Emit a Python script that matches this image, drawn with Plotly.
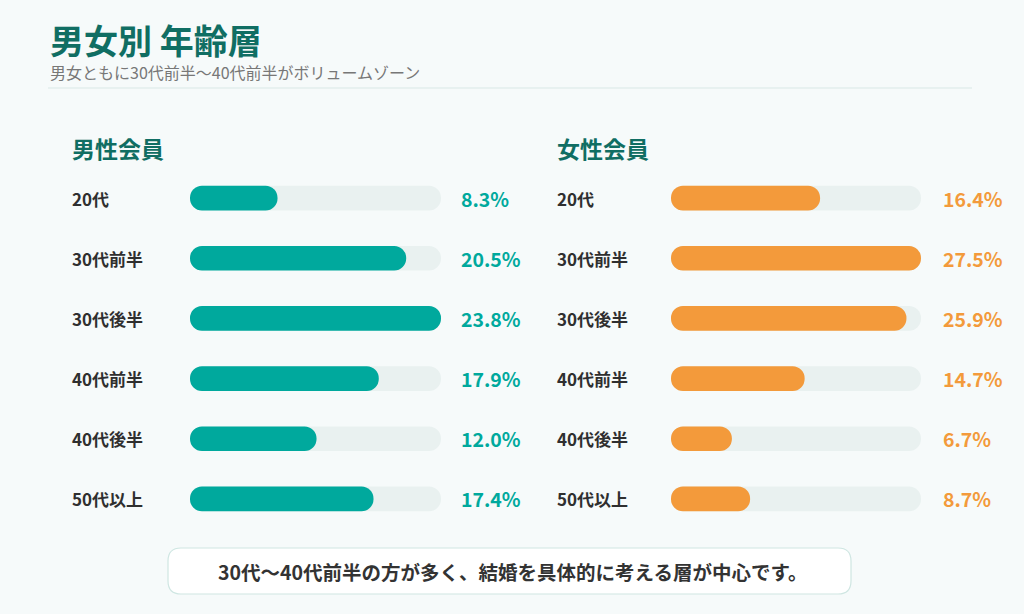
import plotly.graph_objects as go

ages = ['20代', '30代前半', '30代後半', '40代前半', '40代後半', '50代以上']
male = [8.3, 20.5, 23.8, 17.9, 12.0, 17.4]
female = [16.4, 27.5, 25.9, 14.7, 6.7, 8.7]

W, H = 1024, 614
TEAL = '#00A99D'
ORANGE = '#F39A3B'
TRACK = '#E9F1F0'
DARK = '#106E63'
FONT = 'Noto Sans CJK JP'


def px(x):
    return x / W


def py(y):
    return 1 - y / H


fig = go.Figure()

panels = [
    (male, TEAL, 'x', 70, 459, '男性会員'),
    (female, ORANGE, 'x2', 555, 941, '女性会員'),
]

for vals, color, xa, lab_x, val_x, head in panels:
    zero = [0] * len(ages)
    # grey track (full length = panel max), then the value bar on top
    fig.add_trace(go.Bar(x=[max(vals)] * len(ages), base=zero, y=ages,
                         orientation='h', marker=dict(color=TRACK, line_width=0),
                         xaxis=xa, yaxis='y', hoverinfo='skip', showlegend=False))
    fig.add_trace(go.Bar(x=vals, base=zero, y=ages, orientation='h',
                         marker=dict(color=color, line_width=0),
                         xaxis=xa, yaxis='y', showlegend=False,
                         hovertemplate='%{y}: %{x}%<extra></extra>'))
    fig.add_annotation(x=px(lab_x), y=py(148), xref='paper', yref='paper',
                       text='<b>%s</b>' % head, showarrow=False,
                       xanchor='left', yanchor='middle',
                       font=dict(family=FONT, size=23, color=DARK))
    for a, v in zip(ages, vals):
        fig.add_annotation(x=px(lab_x), y=a, xref='paper', yref='y',
                           text='<b>%s</b>' % a, showarrow=False,
                           xanchor='left', yanchor='middle',
                           font=dict(family=FONT, size=17, color='#2f2f2f'))
        fig.add_annotation(x=px(val_x), y=a, xref='paper', yref='y',
                           text='<b>%.1f%%</b>' % v, showarrow=False,
                           xanchor='left', yanchor='middle',
                           font=dict(family=FONT, size=19.5, color=color))

# title block
fig.add_annotation(x=px(48), y=py(39), xref='paper', yref='paper',
                   text='<b>男女別 年齢層</b>', showarrow=False,
                   xanchor='left', yanchor='middle',
                   font=dict(family=FONT, size=34, color=DARK))
fig.add_annotation(x=px(48), y=py(72), xref='paper', yref='paper',
                   text='男女ともに30代前半〜40代前半がボリュームゾーン',
                   showarrow=False, xanchor='left', yanchor='middle',
                   font=dict(family=FONT, size=16, color='#777777'))
fig.add_shape(type='line', xref='paper', yref='paper', x0=px(48), x1=px(972),
              y0=py(88), y1=py(88), line=dict(color='#D9E8E6', width=1))

# note box with rounded corners
bx0, bx1, by0, by1, r = 168, 851, 548, 594, 13
path = ('M {a},{t} L {b},{t} Q {R},{t} {R},{c} L {R},{d} Q {R},{B} {b},{B} '
        'L {a},{B} Q {L},{B} {L},{d} L {L},{c} Q {L},{t} {a},{t} Z').format(
    a=px(bx0 + r), b=px(bx1 - r), L=px(bx0), R=px(bx1),
    t=py(by0), B=py(by1), c=py(by0 + r), d=py(by1 - r))
fig.add_shape(type='path', path=path, xref='paper', yref='paper',
              fillcolor='#FFFFFF', line=dict(color='#CFE6E2', width=1.2))
fig.add_annotation(x=px(513), y=py((by0 + by1) / 2),
                   xref='paper', yref='paper',
                   text='<b>30代〜40代前半の方が多く、結婚を具体的に考える層が中心です。</b>',
                   showarrow=False, xanchor='center', yanchor='middle',
                   font=dict(family=FONT, size=19.5, color='#333333'))

fig.update_layout(
    width=W, height=H,
    margin=dict(l=0, r=0, t=0, b=0),
    paper_bgcolor='#F6FAFA', plot_bgcolor='rgba(0,0,0,0)',
    barmode='overlay', bargap=0.59, barcornerradius='50%',
    xaxis=dict(domain=[px(190), px(441)], range=[0, max(male)],
               visible=False, fixedrange=True),
    xaxis2=dict(domain=[px(671), px(921)], range=[0, max(female)],
                visible=False, fixedrange=True),
    yaxis=dict(domain=[py(529), py(168)], categoryorder='array',
               categoryarray=ages, autorange='reversed', visible=False,
               fixedrange=True),
    font=dict(family=FONT),
)

fig.write_html('out.html', config=dict(displayModeBar=False),
               post_script="document.body.style.margin='0';"
                           "document.body.style.background='#F6FAFA';")
